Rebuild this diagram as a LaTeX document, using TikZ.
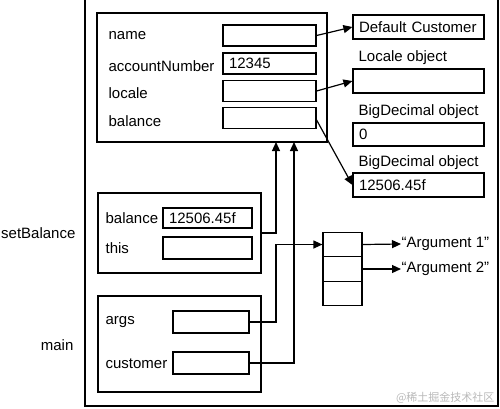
\documentclass[tikz,border=0pt]{standalone}
\usepackage{fontspec}
\setmainfont{Liberation Sans}
\newfontfamily\cjkfont{Noto Sans CJK SC}
\usetikzlibrary{arrows.meta}
\tikzset{
  frame/.style={draw, inner sep=0pt},
  lbl/.style={anchor=west, inner sep=0pt},
  valbox/.style={draw, text width=#1, inner xsep=6pt, inner ysep=0pt, minimum height=21pt, align=left},
  cell/.style={draw, minimum width=39pt, minimum height=24.5pt, inner sep=0pt}
}
\begin{document}
\begin{tikzpicture}[x=1pt, y=-1pt, line width=1.2pt, >={Triangle[length=9pt,width=8pt]}, font=\fontsize{15}{18}\selectfont]
    \useasboundingbox (0,0) rectangle (500,408) ;
    \draw (85,0) -- (85,406) -- (498,406) -- (498,0) ;
    \node[frame, minimum width=230pt, minimum height=129pt] (obj) at (212,77.5) {} ;
    \node[lbl] (nameL) at (108,36) {name} ;
    \node[lbl] (acctL) at (108,66) {accountNumber} ;
    \node[lbl] (locL) at (108,93) {locale} ;
    \node[lbl] (balL) at (108,121) {balance} ;
    \node[valbox=81pt] (nameV) at (269.5,35.5) {} ;
    \node[valbox=81pt] (acctV) at (269.5,63.5) {12345} ;
    \node[valbox=81pt] (locV) at (269.5,91) {} ;
    \node[valbox=81pt] (balV) at (269.5,118) {} ;
    \node[valbox=119pt, minimum height=24pt] (cust) at (418.5,27) {Default Customer} ;
    \node[lbl] (locT) at (358,58) {Locale object} ;
    \node[valbox=119pt, minimum height=24pt] (loc) at (418.5,81) {} ;
    \node[lbl] (bdT1) at (358,112) {BigDecimal object} ;
    \node[valbox=119pt, minimum height=23pt] (bd1) at (418.5,134.5) {0} ;
    \node[lbl] (bdT2) at (358,163) {BigDecimal object} ;
    \node[valbox=119pt, minimum height=24pt] (bd2) at (418.5,185) {12506.45f} ;
    \draw[->] (nameV.east) -- (cust.west) ;
    \draw[->] (locV.east) -- (loc.west) ;
    \draw[->] ([yshift=-2pt]balV.east) -- (bd2.west) ;
    \node[anchor=east, inner sep=0pt] (sbT) at (76,233) {setBalance} ;
    \node[anchor=east, inner sep=0pt] (mainT) at (74,345) {main} ;
    \node[frame, minimum width=163pt, minimum height=80pt] (sb) at (179.5,233) {} ;
    \node[lbl] (sbBalL) at (105,218) {balance} ;
    \node[lbl] (thisL) at (105,248) {this} ;
    \node[valbox=77pt, minimum height=20pt] (sbBalV) at (207.5,218) {12506.45f} ;
    \node[valbox=77pt, minimum height=22pt] (thisV) at (207.5,248) {} ;
    \node[frame, minimum width=163pt, minimum height=96pt] (main) at (179.5,344) {} ;
    \node[lbl] (argsL) at (105,322) {args} ;
    \node[lbl] (custL) at (105,364) {customer} ;
    \node[valbox=64pt, minimum height=22pt] (argsV) at (211,322) {} ;
    \node[valbox=64pt, minimum height=22pt] (custV) at (211,363) {} ;
    \node[cell] (c1) at (342.5,244.5) {} ;
    \node[cell] (c2) at (342.5,269) {} ;
    \node[cell] (c3) at (342.5,293.5) {} ;
    \node[lbl] (arg1) at (401,244) {“Argument 1”} ;
    \node[lbl] (arg2) at (401,269) {“Argument 2”} ;
    \draw[->] (c1.east) -- (arg1.west) ;
    \draw[->] (c2.east) -- (arg2.west) ;
    \coordinate (up1) at (276,142) ;
    \coordinate (up2) at (294,142) ;
    \coordinate (argsTurn) at (276,244.5) ;
    \draw[->] (sb.east) -| (up1) ;
    \draw[->] (custV.east) -| (up2) ;
    \draw[->] (argsV.east) -| (argsTurn) -- (c1.west) ;
    \node[anchor=east, inner sep=0pt, text=gray!55, font=\cjkfont\fontsize{11}{12}\selectfont] (mark) at (495,398) {@稀土掘金技术社区} ;
\end{tikzpicture}
\end{document}
